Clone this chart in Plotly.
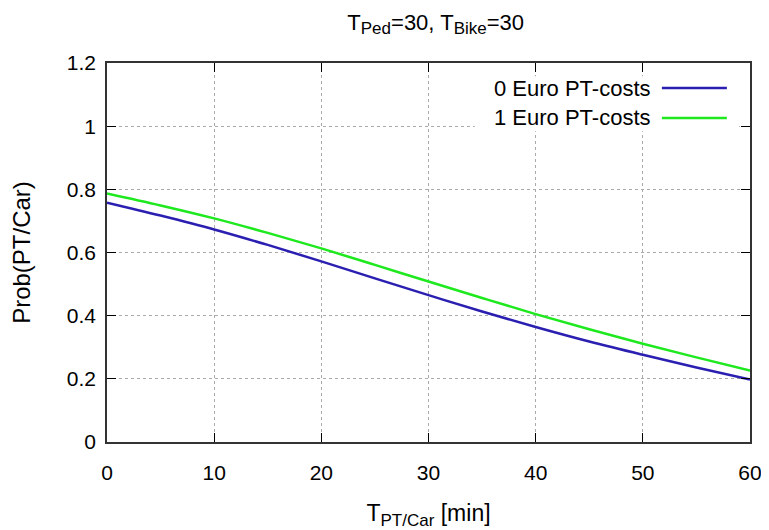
import plotly.graph_objects as go

t_minutes = [0, 5, 10, 15, 20, 25, 30, 35, 40, 45, 50, 55, 60]
prob_0_euro = [0.758, 0.717, 0.673, 0.624, 0.572, 0.518, 0.465, 0.413, 0.364, 0.318, 0.276, 0.236, 0.198]
prob_1_euro = [0.787, 0.749, 0.708, 0.662, 0.613, 0.561, 0.508, 0.456, 0.405, 0.357, 0.311, 0.268, 0.226]
series_names = ["0 Euro PT-costs", "1 Euro PT-costs"]
series_colors = ["#2a1fb0", "#1ee81e"]
x_ticks = [0, 10, 20, 30, 40, 50, 60]
y_ticks = [0, 0.2, 0.4, 0.6, 0.8, 1.0, 1.2]
y_tick_text = ["0", "0.2", "0.4", "0.6", "0.8", "1", "1.2"]

FONT = "Liberation Sans, Arial, sans-serif"
SUB = '<sub><span style="font-size:17px">{}</span></sub>'

fig = go.Figure()
for name, ys, col in zip(series_names, [prob_0_euro, prob_1_euro], series_colors):
    fig.add_trace(go.Scatter(x=t_minutes, y=ys, mode="lines", name=name,
                             line=dict(color=col, width=2.5, shape="spline"),
                             showlegend=False))

# gnuplot-style legend (text left of line sample), drawn in paper coordinates
fig.add_shape(type="rect", xref="paper", yref="paper", x0=0.572, x1=0.983, y0=0.82, y1=0.965,
              fillcolor="white", line=dict(width=0), layer="above")
for i, (name, col) in enumerate(zip(series_names, series_colors)):
    yy = 0.934 - i * 0.079
    fig.add_annotation(xref="paper", yref="paper", x=0.849, y=yy, text=name, showarrow=False,
                       xanchor="right", yanchor="middle", font=dict(size=22, color="black", family=FONT))
    fig.add_shape(type="line", xref="paper", yref="paper", x0=0.863, x1=0.964, y0=yy, y1=yy,
                  line=dict(color=col, width=2.5), layer="above")

# the page body adds an 8px offset, so the figure is sized to fit inside the window
fig.update_layout(
    width=761, height=522,
    margin=dict(l=99, r=19, t=55, b=88),
    paper_bgcolor="white", plot_bgcolor="white",
    font=dict(family=FONT, size=21, color="black"),
    title=dict(text="T" + SUB.format("Ped") + "=30, T" + SUB.format("Bike") + "=30",
               x=0.562, xanchor="center", y=0.988, yanchor="top", font=dict(size=22)),
    xaxis=dict(range=[0, 60], tickvals=x_ticks, ticks="inside", ticklen=9, tickcolor="black",
               showline=True, linecolor="#333", linewidth=1.5, mirror="ticks",
               showgrid=True, gridcolor="#aaaaaa", griddash="dot", gridwidth=1,
               zeroline=False, tickfont=dict(size=21), ticklabelstandoff=11, automargin=False,
               title=dict(text="T" + SUB.format("PT/Car") + " [min]", standoff=30, font=dict(size=23))),
    yaxis=dict(range=[0, 1.2], tickvals=y_ticks, ticktext=y_tick_text, ticks="inside", ticklen=9,
               tickcolor="black", showline=True, linecolor="#333", linewidth=1.5, mirror="ticks",
               showgrid=True, gridcolor="#aaaaaa", griddash="dot", gridwidth=1,
               zeroline=False, tickfont=dict(size=21), ticklabelstandoff=5, automargin=False,
               title=dict(text="Prob(PT/Car)", standoff=44, font=dict(size=24))),
)

fig.write_html("out.html")
